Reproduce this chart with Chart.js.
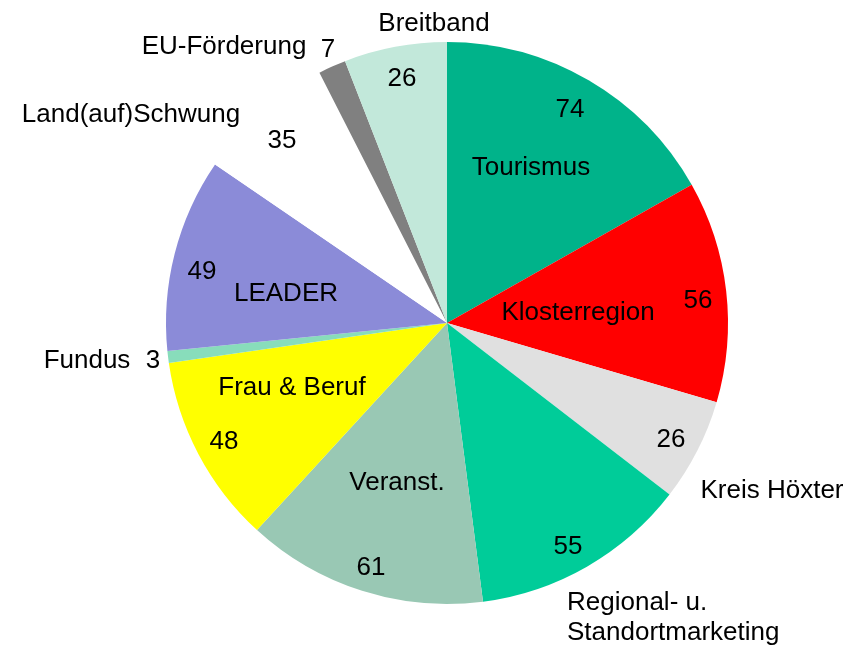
<!DOCTYPE html>
<html>
<head>
<meta charset="utf-8">
<script src="https://cdn.jsdelivr.net/npm/chart.js@4.4.1/dist/chart.umd.min.js"></script>
<style>
  html, body { margin: 0; padding: 0; background: #fff; }
  #wrap { width: 861px; height: 649px; }
</style>
</head>
<body>
<div id="wrap"><canvas id="chart" width="861" height="649"></canvas></div>
<script>
// data, clockwise from 12 o'clock
const categories = ['Tourismus', 'Klosterregion', 'Kreis Höxter', 'Regional- u.\nStandortmarketing', 'Veranst.',
  'Frau & Beruf', 'Fundus', 'LEADER', 'Land(auf)Schwung', 'EU-Förderung', 'Breitband'];
const values = [74, 56, 26, 55, 61, 48, 3, 49, 35, 7, 26];
const colors = ['#00B38A', '#FF0000', '#E0E0E0', '#00CC99', '#99C8B4', '#FFFF00',
  '#88DDBB', '#8B8BD8', '#FFFFFF', '#808080', '#C2E8DA'];

// where each name / value sits, offset from pie centre (px)
const namePos = [[84, -155], [131, -10], [325, 168], [120, 280], [-50, 160], [-155, 65],
  [-360, 38], [-161, -29], [-316, -208], [-223, -276], [-13, -299]];
const valuePos = [[123, -213], [251, -22], [224, 117], [121, 224], [-76, 245], [-223, 119],
  [-294, 38], [-245, -51], [-165, -182], [-119, -273], [-45, -244]];

const labelPlugin = {
  id: 'sliceLabels',
  afterDraw(chart) {
    const ctx = chart.ctx;
    const arc = chart.getDatasetMeta(0).data[0];
    const cx = arc.x, cy = arc.y;
    ctx.save();
    ctx.font = '26px "Liberation Sans", Arial, sans-serif';
    ctx.fillStyle = '#000';
    ctx.textBaseline = 'middle';
    categories.forEach((name, i) => {
      const lines = name.split('\n');
      const [nx, ny] = namePos[i];
      ctx.textAlign = lines.length > 1 ? 'left' : 'center';
      lines.forEach((ln, k) => ctx.fillText(ln, cx + nx, cy + ny + k * 30));
      const [vx, vy] = valuePos[i];
      ctx.textAlign = 'center';
      ctx.fillText(String(values[i]), cx + vx, cy + vy);
    });
    ctx.restore();
  }
};

new Chart(document.getElementById('chart'), {
  type: 'pie',
  data: {
    labels: categories,
    datasets: [{
      data: values,
      backgroundColor: colors,
      borderWidth: 0
    }]
  },
  options: {
    responsive: false,
    animation: false,
    radius: 281,
    layout: { padding: { left: 33, right: 0, top: 0, bottom: 3 } },
    plugins: {
      legend: { display: false },
      tooltip: { enabled: false }
    }
  },
  plugins: [labelPlugin]
});
</script>
</body>
</html>
